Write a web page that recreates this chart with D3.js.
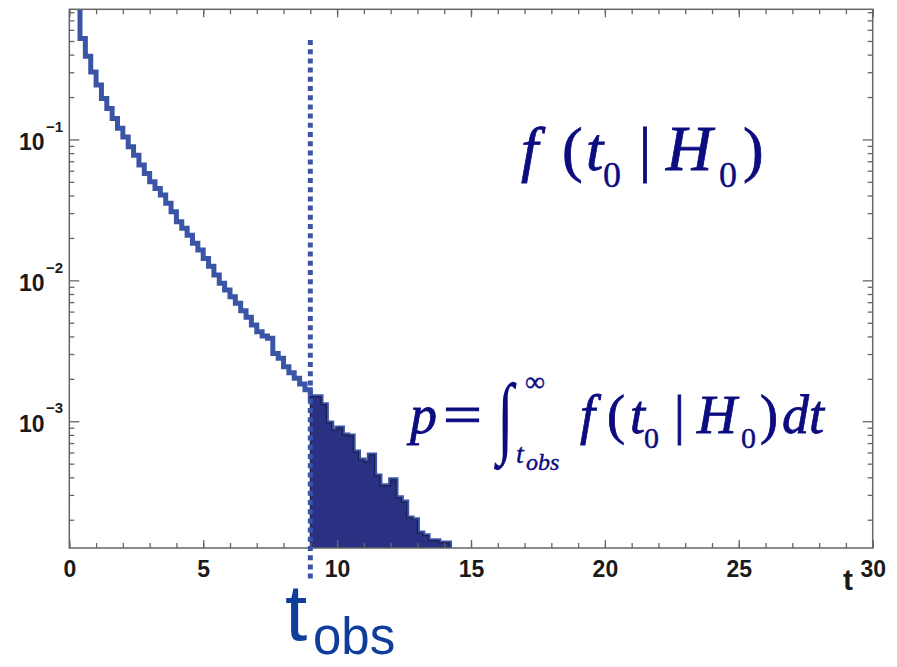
<!DOCTYPE html>
<html>
<head>
<meta charset="utf-8">
<script src="https://cdn.jsdelivr.net/npm/d3@7"></script>
<style>
body { margin: 0; background: #fff; }
svg { display: block; }
</style>
</head>
<body>
<svg id="chart"></svg>
<script>
// histogram of t under H0, bin width 0.2 starting at t = 0
const binWidth = 0.2;
const counts = [
  1.60, 0.95, 0.52, 0.39, 0.301, 0.243, 0.195, 0.166, 0.141, 0.120,
  0.104, 0.0887, 0.0774, 0.0658, 0.0574, 0.0500, 0.0449, 0.0403, 0.0352, 0.0307,
  0.0261, 0.0234, 0.0209, 0.0183, 0.0164, 0.0143, 0.0126, 0.0109, 0.00952, 0.00853,
  0.00765, 0.00687, 0.00608, 0.00547, 0.00482, 0.00432, 0.00403, 0.00388, 0.00303, 0.00280,
  0.00244, 0.00221, 0.00202, 0.00184, 0.00167, 0.00149, 0.00149, 0.00131, 0.000973, 0.000867,
  0.000896, 0.000800, 0.000787, 0.000605, 0.000531, 0.000514, 0.000577, 0.000409, 0.000348, 0.000348,
  0.000384, 0.000286, 0.000267, 0.000206, 0.000200, 0.000161, 0.000154, 0.000142, 0.000142, 0.000137,
  0.000137
];
const tObs = 9;

const xMajor = [0, 5, 10, 15, 20, 25, 30];
const xMinor = d3.range(0, 31, 1);
const yMajor = [1e-3, 1e-2, 1e-1];
const yMajorExp = ["\u22123", "\u22122", "\u22121"];
const yDomain = [1.26e-4, 0.839];

const w = 897;
const h = 667;
const pLeft = 69.3, pRight = 872.7, pTop = 9.3, pBottom = 548;

const lineBlue = "#3a55a6";
const fillNavy = "#2b3182";
const formulaColor = "#0c0c80";
const axisGray = "#666";

const svg = d3.select("#chart").attr("width", w).attr("height", h);

const x = d3.scaleLinear().domain([0, 30]).range([pLeft, pRight]);
const y = d3.scaleLog().domain(yDomain).range([pBottom, pTop]);

// minor log ticks 2..9 x 10^k inside the domain
let yMinor = [];
for (let k = -4; k <= -1; k++) {
  for (let m = 2; m <= 9; m++) {
    const v = m * Math.pow(10, k);
    if (v > yDomain[0] && v < yDomain[1]) yMinor.push(v);
  }
}

svg.append("clipPath").attr("id", "plotClip")
  .append("rect").attr("x", pLeft).attr("y", pTop)
  .attr("width", pRight - pLeft).attr("height", pBottom - pTop);

const bins = counts.map((c, i) => ({x0: i * binWidth, v: c}));
const lastEdge = bins.length * binWidth;

// outline of the whole histogram
let pts = bins.map(b => [b.x0, b.v]);
pts.push([lastEdge, counts[counts.length - 1]]);
pts.push([lastEdge, yDomain[0]]);

const stepLine = d3.line().curve(d3.curveStepAfter)
  .x(d => x(d[0])).y(d => y(d[1]));

const plot = svg.append("g").attr("clip-path", "url(#plotClip)");

plot.append("path").attr("d", stepLine(pts))
  .attr("fill", "none").attr("stroke", lineBlue)
  .attr("stroke-width", 5).attr("stroke-linejoin", "miter");

// shaded tail t > t_obs
let tail = bins.filter(b => b.x0 >= tObs - 1e-9).map(b => [b.x0, b.v]);
tail.push([lastEdge, counts[counts.length - 1]]);

const tailArea = d3.area().curve(d3.curveStepAfter)
  .x(d => x(d[0])).y0(pBottom).y1(d => y(d[1]));

plot.append("path").attr("d", tailArea(tail))
  .attr("fill", fillNavy).attr("stroke", "#1a1d4f").attr("stroke-width", 1.2);

// frame
svg.append("rect").attr("x", pLeft).attr("y", pTop)
  .attr("width", pRight - pLeft).attr("height", pBottom - pTop)
  .attr("fill", "none").attr("stroke", axisGray).attr("stroke-width", 1.5);

const tickAxis = (axis, tr) => {
  const g = svg.append("g").attr("transform", tr).call(axis);
  g.select(".domain").remove();
  g.selectAll("line").attr("stroke", axisGray).attr("stroke-width", 1.3);
  return g;
};

// bottom and top ticks (pointing in)
tickAxis(d3.axisBottom(x).tickValues(xMinor).tickSize(-5).tickFormat(""), `translate(0,${pBottom})`);
tickAxis(d3.axisTop(x).tickValues(xMinor).tickSize(-5).tickFormat(""), `translate(0,${pTop})`);
tickAxis(d3.axisTop(x).tickValues(xMajor).tickSize(-8).tickFormat(""), `translate(0,${pTop})`);
const xg = tickAxis(d3.axisBottom(x).tickValues(xMajor).tickSize(-8).tickFormat(d3.format("d")), `translate(0,${pBottom})`);
xg.selectAll("text").attr("y", 28.5).attr("dy", null)
  .attr("fill", "#1a1a1a").style("font", "bold 23px 'Liberation Sans', Arial, sans-serif");

// left and right ticks
tickAxis(d3.axisLeft(y).tickValues(yMinor).tickSize(-5).tickFormat(""), `translate(${pLeft},0)`);
tickAxis(d3.axisLeft(y).tickValues(yMajor).tickSize(-10).tickFormat(""), `translate(${pLeft},0)`);
tickAxis(d3.axisRight(y).tickValues(yMinor).tickSize(-5).tickFormat(""), `translate(${pRight},0)`);
tickAxis(d3.axisRight(y).tickValues(yMajor).tickSize(-10).tickFormat(""), `translate(${pRight},0)`);

// y labels 10^-k
const yl = svg.append("g").selectAll("text").data(yMajor).enter().append("text")
  .attr("x", 19).attr("y", d => y(d) + 10.7)
  .attr("fill", "#1a1a1a")
  .style("font", "bold 23px 'Liberation Sans', Arial, sans-serif");
yl.append("tspan").text("10");
yl.append("tspan").attr("dx", 1.5).attr("dy", -18.5).style("font-size", "15px")
  .text((d, i) => yMajorExp[i]);

// axis title
svg.append("text").attr("x", 848).attr("y", 590).attr("text-anchor", "middle")
  .attr("fill", "#1a1a1a").style("font", "bold 30px 'Liberation Sans', Arial, sans-serif")
  .text("t");

// t_obs dotted line
svg.append("line").attr("x1", x(tObs)).attr("x2", x(tObs)).attr("y1", 40).attr("y2", 582)
  .attr("stroke", lineBlue).attr("stroke-width", 5).attr("stroke-dasharray", "5,4.2");

// t_obs label
const obsColor = "#0e3d9c";
svg.append("text").attr("x", 285).attr("y", 640).attr("fill", obsColor)
  .style("font", "80px 'Liberation Sans', Arial, sans-serif").text("t");
svg.append("text").attr("x", 313).attr("y", 654).attr("fill", obsColor)
  .style("font", "51px 'Liberation Sans', Arial, sans-serif").text("obs");

// formulas
const serif = "'Liberation Serif', 'Times New Roman', serif";
const put = (px, py, str, size, italic, anchor) => {
  return svg.append("text").attr("x", px).attr("y", py)
    .attr("fill", formulaColor).attr("text-anchor", anchor || "start")
    .attr("stroke", formulaColor).attr("stroke-width", size > 40 ? 0.8 : 0.4)
    .style("font-family", serif).style("font-size", size + "px")
    .style("font-style", italic ? "italic" : "normal")
    .text(str);
};

// f(t0 | H0)
put(521, 170, "f", 62, true);
put(562, 170, "(", 62, false);
put(586, 170, "t", 62, true);
put(603, 187, "0", 36, false);
put(645, 170, "|", 62, false, "middle");
put(666, 170, "H", 64, true);
put(719, 187, "0", 36, false);
put(743, 170, ")", 62, false);

// p = int f(t0|H0) dt
put(410, 433, "p", 54, true);
put(443, 433, "=", 54, false).attr("textLength", 39).attr("lengthAdjust", "spacingAndGlyphs");
svg.append("text").attr("transform", "translate(497,446) scale(1,1.5)")
  .attr("fill", formulaColor).style("font-family", serif).style("font-size", "60px")
  .text("\u222B");
put(525, 391, "\u221E", 28, false);
put(516, 463, "t", 28, true);
put(526, 470, "obs", 24, true);
put(580, 433, "f", 54, true);
put(607, 433, "(", 54, false);
put(630, 433, "t", 54, true);
put(644, 448, "0", 30, false);
put(679.5, 433, "|", 54, false, "middle");
put(697, 433, "H", 55, true);
put(741, 448, "0", 30, false);
put(760, 433, ")", 54, false);
put(782, 433, "dt", 54, true);
</script>
</body>
</html>
